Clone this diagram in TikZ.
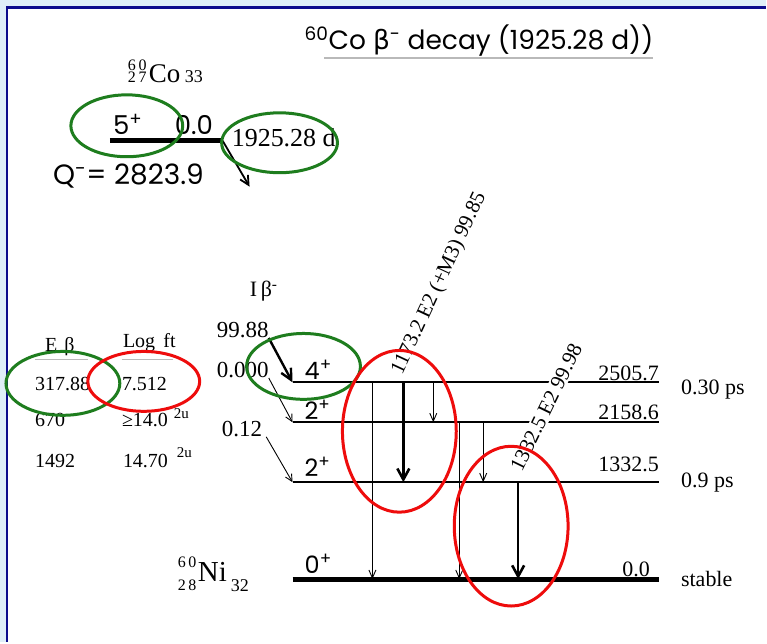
\documentclass[tikz,border=0pt]{standalone}
\usepackage{fontspec}
\setmainfont{Liberation Serif}
\newfontfamily\gothic{Poppins}
\newfontfamily\greeksans{DejaVu Sans}
\usetikzlibrary{arrows.meta, positioning}

\definecolor{frameblue}{RGB}{223,239,248}
\definecolor{framenavy}{RGB}{12,12,140}
\definecolor{ringgreen}{RGB}{30,125,30}
\definecolor{ringred}{RGB}{238,12,12}
\definecolor{rulegray}{RGB}{185,185,185}

\newcommand{\fsz}[1]{\fontsize{#1}{#1}\selectfont}

\begin{document}
\begin{tikzpicture}[x=1pt, y=-1pt,
    lvl/.style={line width=2.2pt},
    gnd/.style={line width=5pt},
    gam/.style={-{Straight Barb[length=8pt,width=7pt]}, line width=0.9pt},
    gamthick/.style={-{Straight Barb[length=11pt,width=12pt]}, line width=2.6pt},
    betathin/.style={-{Straight Barb[length=7pt,width=7pt]}, line width=0.9pt},
    betathick/.style={-{Straight Barb[length=11pt,width=11pt]}, line width=2.4pt},
    sanslbl/.style={font=\gothic\fsz{24}, anchor=base west, inner sep=0pt},
    seriflbl/.style={font=\fsz{20}, anchor=base west, inner sep=0pt},
    intens/.style={font=\fsz{23}, anchor=base west, inner sep=0pt},
    energy/.style={font=\fsz{22}, anchor=base east, inner sep=0pt},
    gtext/.style={font=\fsz{21}, inner sep=1.5pt},
    ring/.style={line width=3pt},
    hrule/.style={rulegray, line width=1.2pt}
]

% frame
\fill[frameblue] (0,0) rectangle (767,643);
\fill[white] (8,9) rectangle (767,643);
\draw[framenavy, line width=2.5pt] (7,643) -- (7,7.3) -- (767,7.3);

% title
\node[sanslbl, font=\gothic\fsz{26.5}] (title) at (305,50)
  {\textsuperscript{60}Co {\greeksans β}\textsuperscript{-} decay (1925.28 d))};
\draw[hrule] (325,58) -- (title.base east |- 325,58);

% parent nucleus
\node[anchor=base west, inner sep=0pt, font=\fsz{27}] (coSym) at (149,83) {Co};
\node[anchor=base east, inner sep=0pt, font=\fsz{16}] (coA) at (147,71) {6\,0};
\node[anchor=base east, inner sep=0pt, font=\fsz{16}] (coZ) at (147,83) {2\,7};
\node[font=\fsz{18}, right=4pt of coSym.base east, anchor=base west, inner sep=0pt] (coN) {33};

\coordinate (coL) at (110,141);
\coordinate (coR) at (223,141);
\coordinate (coTip) at (250,187);
\draw[line width=5pt] (coL) -- (coR);
\node[sanslbl, font=\gothic\fsz{26}] (coSpin) at (113,135) {5\textsuperscript{+}};
\node[sanslbl, font=\gothic\fsz{26}] (coE) at (175,135) {0.0};
\node[anchor=base west, inner sep=0pt, font=\fsz{26}] (coHalf) at (232,147) {1925.28 d};
\node[sanslbl, font=\gothic\fsz{28}] (qval) at (53,185) {Q\textsuperscript{-}= 2823.9};
\draw[-{Straight Barb[length=9pt,width=9pt]}, line width=1.8pt] (coR) -- (coTip);

% table
\node[seriflbl] (hEb) at (45,352) {E\hspace{7pt}β};
\node[seriflbl] (hLog) at (123,348) {Log\, ft};
\draw[hrule] (35,360) -- (88,360);
\draw[hrule] (122,360) -- (173,360);
\node[seriflbl] (eb1) at (35,391) {317.88};
\node[seriflbl] (eb2) at (35,427) {670};
\node[seriflbl] (eb3) at (35,468) {1492};
\node[seriflbl] (lf1) at (122,391) {7.512};
\node[seriflbl] (lf2) at (122,427) {≥14.0};
\node[seriflbl] (lf3) at (123,468) {14.70};
\node[seriflbl, font=\fsz{15}] (u2) at (174,419) {2u};
\node[seriflbl, font=\fsz{15}] (u3) at (177,458) {2u};

% beta intensities
\node[intens, font=\fsz{22}] (ib) at (250,297) {I\,β\textsuperscript{-}};
\node[intens] (ib1) at (217,338) {99.88};
\node[intens] (ib2) at (217,378) {0.000};
\node[intens] (ib3) at (222,437) {0.12};

% levels
\coordinate (s2505) at (293,383); \coordinate (e2505) at (660,383);
\coordinate (s2158) at (293,423); \coordinate (e2158) at (660,423);
\coordinate (s1332) at (293,483); \coordinate (e1332) at (660,483);
\coordinate (s0) at (293,580);    \coordinate (e0) at (660,580);
\draw[lvl] (s2505) -- (e2505);
\draw[lvl] (s2158) -- (e2158);
\draw[lvl] (s1332) -- (e1332);
\draw[gnd] (s0) -- (e0);

\draw[betathick] (ib1.south east) -- (s2505);
\draw[betathin] (ib2.south east) -- (s2158);
\draw[betathin] ([xshift=4pt]ib3.south east) -- (s1332);

\node[sanslbl] (sp2505) at (305,380) {4\textsuperscript{+}};
\node[sanslbl] (sp2158) at (305,420) {2\textsuperscript{+}};
\node[sanslbl] (sp1332) at (305,477) {2\textsuperscript{+}};
\node[sanslbl] (sp0) at (305,574) {0\textsuperscript{+}};

\node[energy] (en2505) at (660,381) {2505.7};
\node[energy] (en2158) at (660,420) {2158.6};
\node[energy] (en1332) at (660,472) {1332.5};
\node[energy] (en0) at (651,577) {0.0};

\node[seriflbl, font=\fsz{22}] (t2505) at (682,395) {0.30 ps};
\node[seriflbl, font=\fsz{22}] (t1332) at (682,488) {0.9 ps};
\node[seriflbl, font=\fsz{22}] (t0) at (682,587) {stable};

% daughter nucleus
\node[anchor=base west, inner sep=0pt, font=\fsz{29}] (niSym) at (198,582) {Ni};
\node[anchor=base east, inner sep=0pt, font=\fsz{16}] (niA) at (197,568) {6\,0};
\node[anchor=base east, inner sep=0pt, font=\fsz{16}] (niZ) at (197,591) {2\,8};
\node[anchor=base west, inner sep=0pt, font=\fsz{18}] (niN) at (231,592) {32};

% gamma transitions
\foreach \gx/\from/\to/\kind in {80/s2505/s0/gam, 111/s2505/s1332/gamthick,
    141/s2505/s2158/gam, 167/s2158/s0/gam, 191/s2158/s1332/gam, 226/s1332/s0/gamthick}
  \draw[\kind] ([xshift=\gx pt]\from) -- ([xshift=\gx pt]\to);

\node[gtext, rotate=65] (g1173) at (440,284) {1173.2 E2 (+M3) 99.85};
\node[gtext, rotate=64, fill=white] (g1332) at (547,408) {1332.5 E2 99.98};

% rings
\draw[ring, ringgreen] (127,126) ellipse [x radius=56pt, y radius=31pt];
\draw[ring, ringgreen] (280,143) ellipse [x radius=58pt, y radius=30pt];
\draw[ring, ringgreen] (63,384) ellipse [x radius=57pt, y radius=32pt];
\draw[ring, ringred] (144,382) ellipse [x radius=56pt, y radius=30pt];
\draw[ring, ringgreen] (304,367) ellipse [x radius=57pt, y radius=33pt];
\draw[ring, ringred] (400,432) ellipse [x radius=57pt, y radius=81pt];
\draw[ring, ringred] (512,527) ellipse [x radius=57pt, y radius=80pt];

\end{tikzpicture}
\end{document}
